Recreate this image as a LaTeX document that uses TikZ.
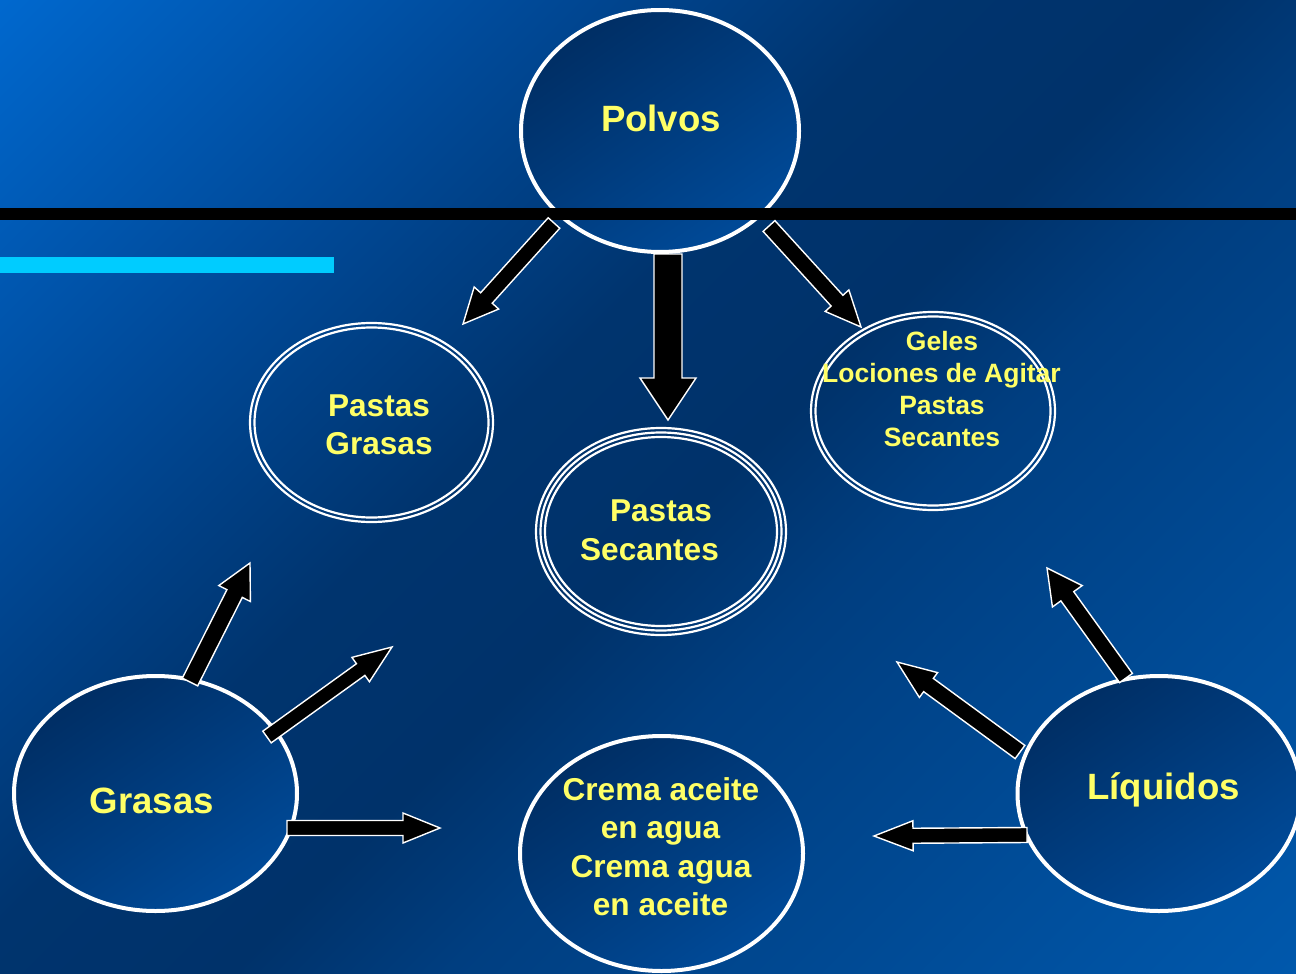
\documentclass[tikz,border=0pt]{standalone}
\usepackage{fontspec}
\setmainfont{Liberation Sans}
\usetikzlibrary{shapes.geometric,calc}
\definecolor{bgA}{RGB}{0,104,206}
\definecolor{bgB}{RGB}{0,75,155}
\definecolor{bgC}{RGB}{0,52,110}
\definecolor{bgD}{RGB}{0,50,106}
\definecolor{bgE}{RGB}{0,62,128}
\definecolor{bgF}{RGB}{0,88,172}
\definecolor{txtyellow}{RGB}{255,255,102}
\definecolor{cyanbar}{RGB}{0,204,255}
\definecolor{elA}{RGB}{0,46,100}
\definecolor{elB}{RGB}{0,74,152}
\pgfdeclarehorizontalshading{bgshade}{100bp}{color(0bp)=(bgA); color(25.3bp)=(bgA); color(36.1bp)=(bgB); color(45.4bp)=(bgC); color(51.5bp)=(bgD); color(56.2bp)=(bgE); color(74.7bp)=(bgF); color(100bp)=(bgF)}
\newcommand\blockarrow[5]{% tail, tip, half shaft, half head, head length
  \path ($(#2)!#5!(#1)$) coordinate (hb);
  \draw[barrow] ($(#1)!#3!90:(#2)$) -- ($(hb)!#3!-90:(#1)$) -- ($(hb)!#4!-90:(#1)$) -- (#2)
     -- ($(hb)!#4!90:(#1)$) -- ($(hb)!#3!90:(#1)$) -- ($(#1)!#3!-90:(#2)$) -- cycle;}
\tikzset{
  bigell/.style={ellipse, draw=white, line width=2pt, inner sep=0pt, outer sep=0pt,
     top color=elA, bottom color=elB, shading angle=35},
  thinell/.style={ellipse, draw=white, line width=1.1pt, inner sep=0pt, outer sep=0pt},
  lblbig/.style={text=txtyellow, anchor=base, inner sep=0pt, font=\bfseries\fontsize{18.3}{22}\selectfont},
  lblmid/.style={text=txtyellow, anchor=base, inner sep=0pt, font=\bfseries\fontsize{15.8}{19}\selectfont},
  lblsmall/.style={text=txtyellow, anchor=base, inner sep=0pt, font=\bfseries\fontsize{13.25}{16}\selectfont},
  barrow/.style={fill=black, draw=white, line width=0.7pt, line join=miter},
}
\begin{document}
\begin{tikzpicture}[x=0.5pt, y=-0.5pt]
\useasboundingbox (0,0) rectangle (1296,974);
\begin{scope}
  \clip (0,0) rectangle (1296,974);
  \begin{scope}[transform canvas={shift={(648,487)}, rotate=-45}]
    \shade[shading=bgshade] (-810,-810) rectangle (810,810);
  \end{scope}
\end{scope}

% main ellipses
\node[bigell, minimum width=139pt, minimum height=121pt] (polvos) at (660,131) {};
\node[bigell, minimum width=141.5pt, minimum height=117.5pt] (grasas) at (155.5,793.5) {};
\node[bigell, minimum width=141.5pt, minimum height=117.5pt] (crema) at (661.5,853.5) {};
\node[bigell, minimum width=141.5pt, minimum height=117.5pt] (liquidos) at (1159,793.5) {};

% double ellipses
\node[thinell, minimum width=121.5pt, minimum height=99.5pt] (pgA) at (371.5,422.5) {};
\node[thinell, minimum width=117pt, minimum height=95pt] (pgB) at (371.5,422.5) {};
\node[thinell, minimum width=122pt, minimum height=99pt] (geA) at (933,411) {};
\node[thinell, minimum width=117.5pt, minimum height=94.5pt] (geB) at (933,411) {};
% triple ellipse
\node[thinell, minimum width=125pt, minimum height=103.5pt] (psA) at (661,531.5) {};
\node[thinell, minimum width=120.5pt, minimum height=99pt] (psB) at (661,531.5) {};
\node[thinell, minimum width=116pt, minimum height=94.5pt] (psC) at (661,531.5) {};

% bars
\fill[black] (0,208) rectangle (1296,220);
\fill[cyanbar] (0,257) rectangle (334,273);

% texts
\node[lblbig] (tPolvos) at (661,132) {Polvos};
\node[lblbig] (tGrasas) at (152,813) {Grasas};
\node[lblbig] (tLiq) at (1163.5,799) {Líquidos};
\node[lblmid] (tpg1) at (379,416) {Pastas};
\node[lblmid] (tpg2) at (379,454) {Grasas};
\node[lblmid] (tps1) at (661,521) {Pastas};
\node[lblmid] (tps2) at (649.5,560) {Secantes};
\node[lblsmall] (tge1) at (942,350.5) {Geles};
\node[lblsmall] (tge2) at (941.5,382.5) {Lociones de Agitar};
\node[lblsmall] (tge3) at (942,414.5) {Pastas};
\node[lblsmall] (tge4) at (942,446.5) {Secantes};
\node[lblmid] (tcr1) at (661,800) {Crema aceite};
\node[lblmid] (tcr2) at (660.5,838.5) {en agua};
\node[lblmid] (tcr3) at (661,877) {Crema agua};
\node[lblmid] (tcr4) at (660.5,915) {en aceite};

% arrow end points
\coordinate (a1t) at (554,223);  \coordinate (a1h) at (463,324);
\coordinate (a2t) at (668,254);  \coordinate (a2h) at (668,420);
\coordinate (a3t) at (769,226);  \coordinate (a3h) at (861,327);
\coordinate (g1t) at (190,682);  \coordinate (g1h) at (250,563);
\coordinate (g2t) at (267,737);  \coordinate (g2h) at (392,647);
\coordinate (g3t) at (287,828);  \coordinate (g3h) at (440,828);
\coordinate (l1t) at (1126,678); \coordinate (l1h) at (1047,568);
\coordinate (l2t) at (1020,752); \coordinate (l2h) at (897,662);
\coordinate (l3t) at (1027,835); \coordinate (l3h) at (874,836);

\blockarrow{a1t}{a1h}{3.9pt}{8.25pt}{17.5pt}
\blockarrow{a2t}{a2h}{7pt}{14pt}{21pt}
\blockarrow{a3t}{a3h}{4pt}{8pt}{17.8pt}
\blockarrow{g1t}{g1h}{4.3pt}{8.85pt}{17.1pt}
\blockarrow{g2t}{g2h}{3.6pt}{7.5pt}{19.3pt}
\blockarrow{g3t}{g3h}{3.75pt}{7.5pt}{18.5pt}
\blockarrow{l1t}{l1h}{3.95pt}{9.15pt}{17.4pt}
\blockarrow{l2t}{l2h}{4.1pt}{7.7pt}{19.5pt}
\blockarrow{l3t}{l3h}{3.75pt}{7.5pt}{19.5pt}
\end{tikzpicture}
\end{document}
